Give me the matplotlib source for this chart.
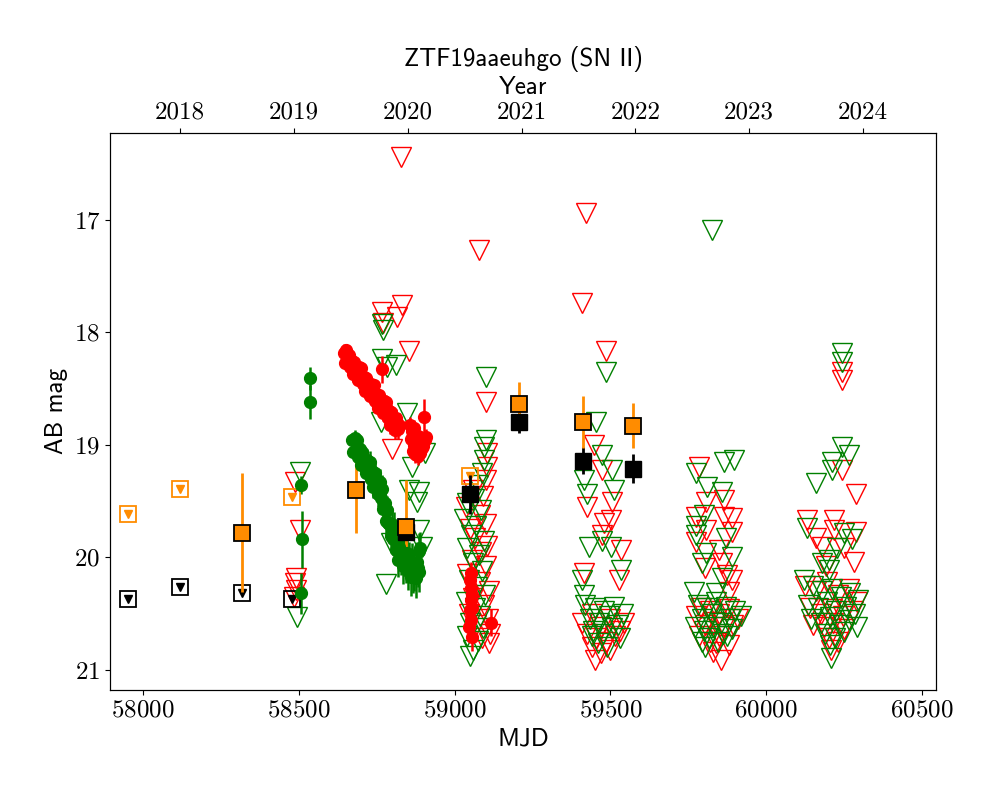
import datetime
import matplotlib
matplotlib.use("Agg")
import matplotlib.pyplot as plt

plt.rcParams['axes.unicode_minus'] = False
plt.rcParams['axes.formatter.use_mathtext'] = True

# ---------------- data ----------------
# ZTF r-band detections
r_det_mjd = [58645, 58649, 58653, 58657, 58661, 58665, 58669, 58673, 58677, 58681,
             58685, 58689, 58693, 58697, 58701, 58705, 58709, 58713, 58717, 58721,
             58725, 58729, 58733, 58737, 58741, 58745, 58749, 58753, 58757, 58761,
             58765, 58769, 58773, 58777, 58781, 58785, 58789, 58793, 58797, 58801,
             58805, 58809, 58813, 58817, 58821, 58767,
             58858, 58861, 58863, 58865, 58867, 58869, 58871, 58873, 58875, 58877,
             58879, 58881, 58883, 58885, 58887, 58889, 58891, 58894, 58897, 58900,
             58902, 58905, 58908,
             59050, 59053, 59053, 59055, 59053, 59056, 59050, 59053, 59047, 59056, 59117]
r_det_mag = [18.18, 18.27, 18.16, 18.26, 18.20, 18.31, 18.25, 18.37, 18.26, 18.34,
             18.33, 18.42, 18.31, 18.41, 18.32, 18.46, 18.40, 18.52, 18.41, 18.49,
             18.48, 18.57, 18.46, 18.56, 18.47, 18.61, 18.55, 18.67, 18.56, 18.64,
             18.63, 18.72, 18.61, 18.71, 18.62, 18.76, 18.70, 18.82, 18.71, 18.79,
             18.78, 18.87, 18.76, 18.86, 18.82, 18.33,
             18.82, 18.95, 18.88, 19.05, 18.90, 19.00, 18.85, 19.08, 18.93, 19.02,
             18.97, 19.10, 18.92, 19.04, 18.98, 19.07, 18.95, 19.03, 18.97, 19.01,
             18.75, 18.96, 18.93,
             20.20, 20.14, 20.27, 20.33, 20.38, 20.45, 20.47, 20.56, 20.62, 20.71, 20.58]
r_det_err = [0.08, 0.06, 0.05, 0.06, 0.05, 0.06, 0.05, 0.07, 0.05, 0.06,
             0.05, 0.06, 0.05, 0.06, 0.05, 0.07, 0.05, 0.06, 0.05, 0.06,
             0.05, 0.06, 0.05, 0.07, 0.05, 0.06, 0.05, 0.06, 0.05, 0.07,
             0.06, 0.07, 0.06, 0.07, 0.06, 0.08, 0.07, 0.08, 0.07, 0.08,
             0.07, 0.08, 0.08, 0.09, 0.10, 0.12,
             0.07, 0.08, 0.07, 0.08, 0.07, 0.08, 0.07, 0.08, 0.07, 0.08,
             0.07, 0.08, 0.07, 0.08, 0.07, 0.08, 0.07, 0.08, 0.07, 0.08,
             0.16, 0.08, 0.07,
             0.10, 0.10, 0.10, 0.10, 0.10, 0.12, 0.10, 0.12, 0.12, 0.12, 0.12]

# ZTF g-band detections
g_det_mjd = [58507, 58510, 58507, 58536, 58536,
             58671, 58675, 58679, 58683, 58687, 58691, 58695, 58699, 58703, 58707,
             58711, 58715, 58719, 58723, 58727, 58731, 58735, 58739, 58743, 58747,
             58751, 58755, 58759, 58763, 58767, 58771, 58775, 58779, 58783, 58787,
             58791, 58795, 58799, 58803, 58807, 58811, 58815, 58819, 58823, 58827,
             58831, 58835, 58839, 58843, 58847, 58851, 58855, 58859, 58863, 58867,
             58871, 58875, 58879, 58883, 58887, 58890, 58885]
g_det_mag = [19.36, 19.84, 20.32, 18.41, 18.62,
             18.96, 19.06, 18.94, 19.06, 18.96, 19.11, 19.04, 19.18, 19.06, 19.16,
             19.15, 19.25, 19.13, 19.25, 19.15, 19.30, 19.23, 19.37, 19.25, 19.35,
             19.34, 19.44, 19.33, 19.47, 19.39, 19.57, 19.52, 19.68, 19.58, 19.69,
             19.70, 19.81, 19.70, 19.84, 19.75, 19.93, 19.87, 20.02, 19.91, 20.01,
             19.99, 20.08, 19.96, 20.07, 19.96, 20.12, 20.04, 20.17, 20.05, 20.14,
             20.12, 20.18, 20.04, 20.09, 19.94, 19.92, 20.13]
g_det_err = [0.08, 0.25, 0.18, 0.10, 0.15,
             0.06, 0.06, 0.07, 0.06, 0.07, 0.07, 0.08, 0.07, 0.08, 0.08,
             0.09, 0.08, 0.09, 0.09, 0.10, 0.09, 0.10, 0.10, 0.11, 0.10,
             0.11, 0.11, 0.12, 0.11, 0.12, 0.12, 0.13, 0.12, 0.13, 0.13,
             0.14, 0.13, 0.14, 0.14, 0.15, 0.14, 0.15, 0.15, 0.16, 0.15,
             0.16, 0.16, 0.17, 0.16, 0.17, 0.17, 0.18, 0.17, 0.18, 0.18,
             0.18, 0.18, 0.18, 0.17, 0.16, 0.15, 0.18]

# ZTF r-band upper limits
r_lim_mjd = [58488, 58504, 58491, 58488, 58491, 58485,
             58828, 58831, 58815, 58767, 58854, 58799, 58770,
             59078, 59101, 59104, 59104, 59101, 59060, 59090, 59035, 59080, 59100,
             59048, 59065, 59105, 59085, 59055, 59100, 59040, 59080, 59110, 59060,
             59095, 59045, 59108, 59070, 59115, 59088, 59110,
             59422, 59409, 59486, 59447, 59473, 59425, 59505, 59479, 59502, 59473,
             59534, 59527, 59415, 59410, 59440, 59470, 59500, 59530, 59425, 59455,
             59485, 59515, 59545, 59440, 59470, 59450, 59500,
             59784, 59807, 59864, 59775, 59864, 59890, 59807, 59890, 59775, 59848,
             59805, 59858, 59874, 59890, 59880, 59855, 59839,
             59790, 59820, 59850, 59880, 59910, 59775, 59805, 59835, 59865, 59895,
             59785, 59820, 59850, 59880, 59830,
             60243, 60243, 60243, 60288, 60131, 60217, 60217, 60250, 60288, 60160,
             60179, 60192, 60282, 60208,
             60125, 60160, 60195, 60230, 60265, 60290, 60140, 60175, 60210, 60245,
             60280, 60150, 60185, 60215, 60250, 60200, 60230]
r_lim_mag = [19.33, 19.76, 20.18, 20.23, 20.29, 20.35,
             16.44, 17.76, 17.86, 17.82, 18.17, 19.04, 17.92,
             17.27, 18.62, 19.07, 19.20, 19.31, 19.40, 19.45, 19.55, 19.62, 19.70,
             19.75, 19.83, 19.90, 19.95, 20.02, 20.08, 20.15, 20.22, 20.30, 20.36,
             20.42, 20.50, 20.55, 20.60, 20.68, 20.72, 20.76,
             16.94, 17.74, 18.17, 19.00, 19.22, 19.55, 19.51, 19.69, 19.67, 19.80,
             19.93, 20.20, 20.14, 20.58, 20.50, 20.62, 20.55, 20.65, 20.68, 20.72,
             20.75, 20.70, 20.58, 20.80, 20.85, 20.91, 20.82,
             19.20, 19.51, 19.49, 19.64, 19.64, 19.65, 19.76, 19.77, 19.86, 19.93,
             20.09, 20.05, 20.16, 20.20, 20.31, 20.91, 20.76,
             20.45, 20.48, 20.50, 20.46, 20.55, 20.52, 20.60, 20.57, 20.62, 20.60,
             20.70, 20.75, 20.70, 20.78, 20.84,
             18.35, 18.42, 19.22, 19.44, 19.67, 19.67, 19.76, 19.92, 19.77, 19.83,
             19.91, 20.08, 20.04, 20.82,
             20.25, 20.30, 20.22, 20.33, 20.28, 20.40, 20.45, 20.50, 20.46, 20.52,
             20.48, 20.60, 20.62, 20.58, 20.64, 20.72, 20.75]

# ZTF g-band upper limits
g_lim_mjd = [58504, 58494,
             58767, 58770, 58767, 58812, 58783, 58764, 58863, 58905, 58847, 58886,
             58854, 58879, 58886, 58895, 58780, 58796,
             59101, 59101, 59094, 59094, 59088, 59075, 59040, 59062, 59085, 59030,
             59070, 59052, 59095, 59040, 59078, 59060, 59088, 59045, 59072, 59098,
             59036, 59065, 59082, 59050, 59092, 59040, 59075, 59058, 59050,
             59486, 59454, 59473, 59505, 59415, 59425, 59511, 59502, 59431, 59473,
             59534, 59409, 59415, 59420, 59450, 59480, 59510, 59540, 59435, 59465,
             59495, 59525, 59445, 59475, 59505, 59530, 59460, 59490, 59440,
             59826, 59864, 59897, 59775, 59810, 59858, 59800, 59775, 59775, 59871,
             59807, 59890, 59794, 59858, 59768, 59839, 59794,
             59780, 59810, 59840, 59870, 59900, 59920, 59795, 59825, 59855, 59885,
             59770, 59800, 59830, 59860, 59890, 59815, 59845, 59875, 59805,
             60243, 60243, 60243, 60266, 60211, 60211, 60160, 60131, 60250, 60275,
             60227, 60179, 60201, 60201, 60291, 60208,
             60120, 60150, 60180, 60210, 60240, 60270, 60295, 60135, 60165, 60195,
             60225, 60255, 60285, 60145, 60175, 60205, 60235, 60265, 60190, 60220,
             60250, 60205]
g_lim_mag = [19.24, 20.53,
             17.93, 17.98, 18.24, 18.29, 18.31, 18.80, 19.20, 19.07, 18.72, 19.42,
             19.40, 19.51, 19.76, 19.91, 20.24, 19.87,
             18.40, 18.96, 19.02, 19.13, 19.25, 19.36, 19.52, 19.48, 19.58, 19.66,
             19.72, 19.80, 19.85, 19.92, 19.98, 20.05, 20.12, 20.20, 20.26, 20.33,
             20.40, 20.45, 20.52, 20.58, 20.63, 20.70, 20.74, 20.82, 20.88,
             18.35, 18.80, 19.09, 19.22, 19.31, 19.44, 19.40, 19.91, 19.91, 19.85,
             20.11, 20.20, 20.33, 20.42, 20.45, 20.48, 20.44, 20.50, 20.55, 20.58,
             20.52, 20.60, 20.65, 20.68, 20.63, 20.72, 20.76, 20.80, 20.70,
             17.09, 19.15, 19.13, 19.25, 19.37, 19.42, 19.62, 19.72, 19.80, 19.83,
             19.96, 20.00, 20.05, 20.18, 20.31, 20.32, 20.75,
             20.42, 20.45, 20.40, 20.44, 20.48, 20.52, 20.55, 20.50, 20.58, 20.55,
             20.62, 20.65, 20.62, 20.68, 20.64, 20.72, 20.75, 20.70, 20.80,
             18.18, 18.26, 19.02, 19.09, 19.15, 19.22, 19.34, 19.74, 19.78, 19.84,
             19.92, 20.05, 20.02, 20.11, 20.62, 20.89,
             20.20, 20.25, 20.30, 20.28, 20.35, 20.32, 20.38, 20.42, 20.45, 20.40,
             20.48, 20.44, 20.50, 20.55, 20.58, 20.53, 20.60, 20.56, 20.68, 20.72,
             20.66, 20.78]

# Other survey, orange band: detections and upper limits
o_det_mjd = [58318, 58684, 58844, 59207, 59412, 59573]
o_det_mag = [19.78, 19.40, 19.73, 18.64, 18.80, 18.83]
o_det_err = [0.53, 0.38, 0.42, 0.20, 0.23, 0.20]
o_lim_mjd = [57952, 58119, 58478, 59049]
o_lim_mag = [19.61, 19.39, 19.46, 19.28]

# Other survey, black band: detections and upper limits
c_det_mjd = [58844, 59049, 59207, 59412, 59573]
c_det_mag = [19.77, 19.44, 18.80, 19.14, 19.21]
c_det_err = [0.05, 0.17, 0.09, 0.12, 0.13]
c_lim_mjd = [57952, 58119, 58318, 58478]
c_lim_mag = [20.37, 20.26, 20.32, 20.37]

years = [2018, 2019, 2020, 2021, 2022, 2023, 2024]

# ---------------- plot ----------------
FS = 18
fig = plt.figure(figsize=(10, 8), dpi=100)
ax = fig.add_axes([0.11, 0.1375, 0.826, 0.6965])

ax.plot(r_lim_mjd, r_lim_mag, 'v', mfc='none', mec='red', ms=14, mew=1.0, ls='none')
ax.plot(g_lim_mjd, g_lim_mag, 'v', mfc='none', mec='green', ms=14, mew=1.0, ls='none')

ax.errorbar(r_det_mjd, r_det_mag, yerr=r_det_err, fmt='o', color='red', ms=8.5,
            elinewidth=1.8, capsize=0, ls='none')
ax.errorbar(g_det_mjd, g_det_mag, yerr=g_det_err, fmt='o', color='green', ms=8.5,
            elinewidth=1.8, capsize=0, ls='none')

ax.plot(c_lim_mjd, c_lim_mag, 's', mfc='none', mec='black', ms=12, mew=1.3, ls='none')
ax.plot(c_lim_mjd, c_lim_mag, 'v', color='black', ms=5.5, ls='none')
ax.plot(o_lim_mjd, o_lim_mag, 's', mfc='none', mec='darkorange', ms=12, mew=1.3, ls='none')
ax.plot(o_lim_mjd, o_lim_mag, 'v', color='darkorange', ms=5.5, ls='none')

ax.errorbar(c_det_mjd, c_det_mag, yerr=c_det_err, fmt='s', mfc='black', mec='black',
            ecolor='black', ms=12, elinewidth=2, capsize=0, ls='none')
ax.errorbar(o_det_mjd, o_det_mag, yerr=o_det_err, fmt='s', mfc='darkorange', mec='black',
            mew=1.3, ecolor='darkorange', ms=12, elinewidth=2, capsize=0, ls='none')

ax.set_xlim(57894, 60545)
ax.set_ylim(21.178, 16.227)
ax.set_xticks([58000, 58500, 59000, 59500, 60000, 60500])
ax.set_yticks([17, 18, 19, 20, 21])
for lab in ax.get_xticklabels() + ax.get_yticklabels():
    lab.set_fontfamily('cmr10')
    lab.set_fontsize(FS)
ax.set_xlabel('MJD', fontfamily='cmss10', fontsize=FS)
ax.set_ylabel('AB mag', fontfamily='cmss10', fontsize=FS)

ax2 = ax.twiny()
ax2.set_xlim(ax.get_xlim())
mjd0 = datetime.date(1858, 11, 17)
year_pos = [(datetime.date(y, 1, 1) - mjd0).days for y in years]
ax2.set_xticks(year_pos)
ax2.set_xticklabels([str(y) for y in years], fontfamily='cmr10', fontsize=FS)
ax2.set_xlabel('Year', fontfamily='cmss10', fontsize=FS, labelpad=5)
ax2.set_title('ZTF19aaeuhgo (SN II)', fontfamily='cmss10', fontsize=FS, pad=7.5)

fig.savefig('out.png', dpi=100)
